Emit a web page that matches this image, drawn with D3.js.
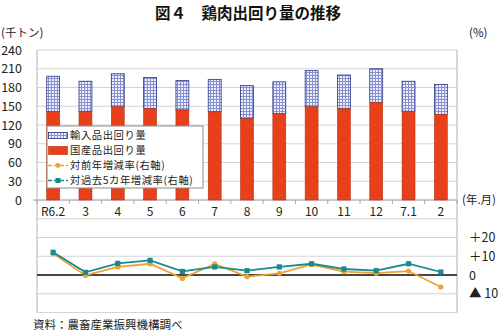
<!DOCTYPE html>
<html><head><meta charset="utf-8">
<script src="https://cdn.jsdelivr.net/npm/d3@7"></script>
<style>body{margin:0;background:#fff}svg{display:block}</style>
</head><body>
<script>
const categories = ["R6.2","3","4","5","6","7","8","9","10","11","12","7.1","2"];
const domestic = [141,142,149,146,144,141,130,138,149,146,156,142,137];
const imported = [57,48,53,50,47,52,53,51,58,54,54,48,48];
const yoyRate = [11.4,-0.2,4.3,6.0,-1.8,5.9,-0.9,0.9,5.6,1.8,1.0,2.1,-6.4];
const fiveYearRate = [12.1,1.4,6.2,7.8,1.9,4.3,2.3,4.3,6.0,3.2,2.3,6.0,1.6];
const leftTicks = [0,30,60,90,120,150,180,210,240];
const rightTicks = [20,10,0,-10];
const rightTickLabels = ["＋20","＋10","0","▲ 10"];
const seriesNames = ["輸入品出回り量","国産品出回り量","対前年増減率(右軸)","対過去5カ年増減率(右軸)"];

const W=500,H=335;
const jp = "'Noto Sans CJK JP','Noto Sans',sans-serif";
const svg = d3.select("body").append("svg").attr("width",W).attr("height",H)
  .style("font-family",jp);

const defs = svg.append("defs");
const pat = defs.append("pattern").attr("id","hatch").attr("patternUnits","userSpaceOnUse")
  .attr("width",3).attr("height",3);
pat.append("rect").attr("width",3).attr("height",3).attr("fill","#eef0fb");
pat.append("path").attr("d","M0,0.5H3M0.5,0V3").attr("stroke","#8490d2").attr("stroke-width",1);

const L=37,R=457,T=50,B=312.5;
const x = d3.scaleBand().domain(categories).range([L,R]).paddingInner(0.6).paddingOuter(0.3);
const yL = d3.scaleLinear().domain([-180,240]).range([B,T]);
const yR = d3.scaleLinear().domain([-20,120]).range([B,T]);

// gridlines
const gridVals = d3.range(-180,241,30);
svg.append("g").selectAll("line").data(gridVals).join("line")
  .attr("x1",L).attr("x2",R).attr("y1",d=>yL(d)).attr("y2",d=>yL(d))
  .attr("stroke","#d4d4d4").attr("stroke-width",1);

// axes lines
svg.append("line").attr("x1",L).attr("x2",L).attr("y1",T).attr("y2",B).attr("stroke","#b0b0b0");
svg.append("line").attr("x1",R).attr("x2",R).attr("y1",T).attr("y2",B).attr("stroke","#b0b0b0");
svg.append("line").attr("x1",L-4).attr("x2",R).attr("y1",yL(0)).attr("y2",yL(0)).attr("stroke","#a8a8a8");

// x tick marks at category boundaries
const step = x.step();
svg.append("g").selectAll("line").data(d3.range(categories.length+1)).join("line")
  .attr("x1",i=>L+i*step).attr("x2",i=>L+i*step)
  .attr("y1",yL(0)).attr("y2",yL(0)+4).attr("stroke","#a8a8a8");

// left axis labels
svg.append("g").selectAll("text").data(leftTicks).join("text")
  .attr("x",22).attr("y",d=>yL(d)).attr("dy","0.36em").attr("text-anchor","end")
  .attr("font-size",12.5).attr("fill","#222").text(d=>d);

// right axis labels
svg.append("g").selectAll("text").data(rightTicks).join("text")
  .attr("x",469).attr("y",d=>yR(d)).attr("dy","0.36em")
  .attr("font-size",12.5).attr("fill","#222").text((d,i)=>rightTickLabels[i]);

// bars
const bars = svg.append("g");
bars.selectAll("rect.imp").data(categories).join("rect").attr("class","imp")
  .attr("x",d=>x(d)).attr("width",x.bandwidth())
  .attr("y",(d,i)=>yL(domestic[i]+imported[i]))
  .attr("height",(d,i)=>yL(domestic[i])-yL(domestic[i]+imported[i]))
  .attr("fill","url(#hatch)").attr("stroke","#2c3580").attr("stroke-width",0.8);
bars.selectAll("rect.dom").data(categories).join("rect").attr("class","dom")
  .attr("x",d=>x(d)).attr("width",x.bandwidth())
  .attr("y",(d,i)=>yL(domestic[i]))
  .attr("height",(d,i)=>yL(0)-yL(domestic[i]))
  .attr("fill","#e8401a").attr("stroke","#b8300f").attr("stroke-width",0.6);

// zero line of right axis
svg.append("line").attr("x1",L).attr("x2",R).attr("y1",yR(0)).attr("y2",yR(0))
  .attr("stroke","#111").attr("stroke-width",1.6);

const cx = d=>x(d)+x.bandwidth()/2;
const lineGen = arr => d3.line().x(d=>cx(d)).y((d,i)=>yR(arr[i]));
svg.append("path").datum(categories).attr("d",lineGen(yoyRate))
  .attr("fill","none").attr("stroke","#f0a030").attr("stroke-width",1.8);
svg.append("g").selectAll("circle").data(categories).join("circle")
  .attr("cx",cx).attr("cy",(d,i)=>yR(yoyRate[i])).attr("r",2.6).attr("fill","#f0a030");
svg.append("path").datum(categories).attr("d",lineGen(fiveYearRate))
  .attr("fill","none").attr("stroke","#1a8a8c").attr("stroke-width",1.8);
svg.append("g").selectAll("rect").data(categories).join("rect")
  .attr("x",d=>cx(d)-2.6).attr("y",(d,i)=>yR(fiveYearRate[i])-2.6)
  .attr("width",5.2).attr("height",5.2).attr("fill","#1a8a8c");

// x labels
svg.append("g").selectAll("text").data(categories).join("text")
  .attr("x",cx).attr("y",212).attr("dy","0.36em").attr("text-anchor","middle")
  .attr("font-size",12).attr("fill","#222").text(d=>d);

// legend
const lg = svg.append("g");
lg.append("rect").attr("x",47).attr("y",126).attr("width",156).attr("height",62)
  .attr("fill","#fff").attr("stroke","#8c8c8c").attr("stroke-width",1);
const rowY = [135.5,150.5,165.5,180.5];
lg.append("rect").attr("x",48.5).attr("y",rowY[0]-3).attr("width",19).attr("height",6)
  .attr("fill","url(#hatch)").attr("stroke","#2c3580").attr("stroke-width",0.8);
lg.append("rect").attr("x",48.5).attr("y",rowY[1]-4).attr("width",19).attr("height",8)
  .attr("fill","#e8401a").attr("stroke","#b8300f").attr("stroke-width",0.6);
lg.append("line").attr("x1",48).attr("x2",68).attr("y1",rowY[2]).attr("y2",rowY[2])
  .attr("stroke","#f0a030").attr("stroke-width",1.6).attr("stroke-dasharray","4,2");
lg.append("circle").attr("cx",58).attr("cy",rowY[2]).attr("r",2.4).attr("fill","#f0a030");
lg.append("line").attr("x1",48).attr("x2",68).attr("y1",rowY[3]).attr("y2",rowY[3])
  .attr("stroke","#1a8a8c").attr("stroke-width",1.6).attr("stroke-dasharray","4,2");
lg.append("rect").attr("x",55.5).attr("y",rowY[3]-2.5).attr("width",5).attr("height",5).attr("fill","#1a8a8c");
lg.selectAll("text").data(seriesNames).join("text")
  .attr("x",70).attr("y",(d,i)=>rowY[i]).attr("dy","0.36em")
  .attr("font-size",10.3).attr("letter-spacing",0.6).attr("fill","#222").text(d=>d);

// titles & units
svg.append("text").attr("x",248).attr("y",19).attr("text-anchor","middle")
  .attr("font-size",15.5).attr("font-weight","bold").attr("fill","#111").text("図４　鶏肉出回り量の推移");
svg.append("text").attr("x",1).attr("y",33).attr("dy","0.36em").attr("font-size",11.5).attr("fill","#222").text("(千トン)");
svg.append("text").attr("x",469).attr("y",33).attr("dy","0.36em").attr("font-size",11.5).attr("fill","#222").text("(%)");
svg.append("text").attr("x",462).attr("y",200).attr("dy","0.36em").attr("font-size",11.5).attr("fill","#222").text("(年.月)");
svg.append("text").attr("x",33).attr("y",325).attr("dy","0.36em").attr("font-size",11.5).attr("fill","#222").text("資料：農畜産業振興機構調べ");
</script>
</body></html>
